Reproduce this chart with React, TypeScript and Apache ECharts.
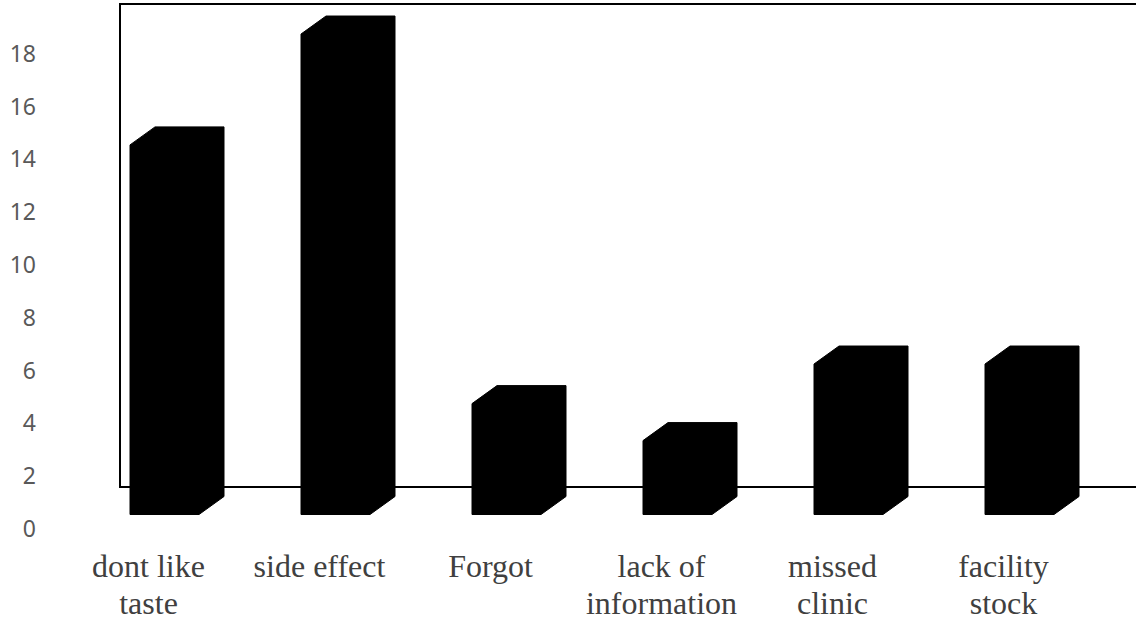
import React, { useEffect, useRef } from "react";
import * as echarts from "echarts";

const categories = [
  "dont like\ntaste",
  "side effect",
  "Forgot",
  "lack of\ninformation",
  "missed\nclinic",
  "facility\nstock",
];
const values = [14, 18.2, 4.2, 2.8, 5.7, 5.7];
const yTicks = [0, 2, 4, 6, 8, 10, 12, 14, 16, 18];

export default function App() {
  const ref = useRef<HTMLDivElement>(null);
  useEffect(() => {
    document.body.style.margin = "0";
    const chart = echarts.init(ref.current!, null, { renderer: "svg" });
    const FRONT_W = 69;
    const DX = 25;
    const DY = 18;
    const LIFT = 13.5;
    chart.setOption({
      animation: false,
      backgroundColor: "#ffffff",
      grid: { left: 63, right: 47, top: 0, bottom: 90, containLabel: false },
      xAxis: {
        type: "category",
        data: categories,
        axisLine: { show: false },
        axisTick: { show: false },
        axisLabel: {
          margin: 19,
          color: "#404040",
          fontFamily: "Liberation Serif",
          fontSize: 32,
          lineHeight: 37,
          interval: 0,
        },
      },
      yAxis: {
        type: "value",
        min: 0,
        max: 20,
        interval: 2,
        axisLine: { show: false },
        axisTick: { show: false },
        splitLine: { show: false },
        axisLabel: {
          margin: 27,
          color: "#595959",
          fontFamily: "Noto Sans",
          fontSize: 23,
          showMaxLabel: false,
          formatter: (v: number) => (yTicks.includes(v) ? String(v) : ""),
        },
      },
      graphic: [
        {
          type: "rect",
          z: 0,
          shape: { x: 120, y: 4, width: 1030, height: 483 },
          style: { fill: "none", stroke: "#000000", lineWidth: 2 },
        },
      ],
      series: [
        {
          type: "custom",
          z: 5,
          data: values.map((v, i) => [i, v]),
          renderItem: (params: any, api: any) => {
            const i = api.value(0);
            const v = api.value(1);
            const base = api.coord([i, 0]);
            const top = api.coord([i, v]);
            const cx = base[0];
            const L = cx - 18.5;
            const fb = base[1] - LIFT;
            const ft = fb - (base[1] - top[1]);
            const pts = [
              [L, fb],
              [L, ft],
              [L + DX, ft - DY],
              [L + FRONT_W + DX, ft - DY],
              [L + FRONT_W + DX, fb - DY],
              [L + FRONT_W, fb],
            ];
            return {
              type: "polygon",
              shape: { points: pts },
              style: { fill: "#000000", stroke: "#000000", lineWidth: 1 },
            };
          },
        },
      ],
    });
    return () => chart.dispose();
  }, []);
  return <div ref={ref} style={{ width: 1136, height: 621 }} />;
}
